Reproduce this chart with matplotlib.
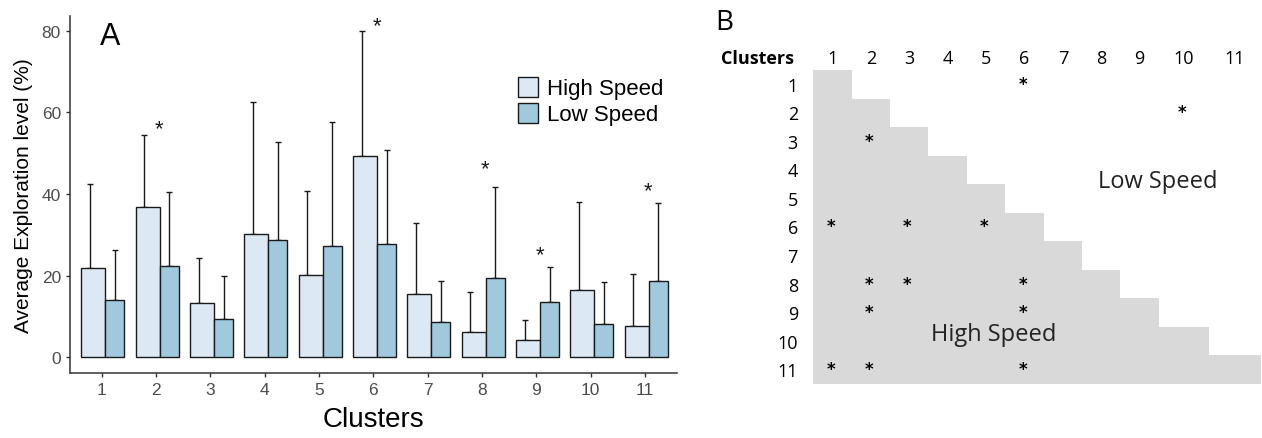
import numpy as np
import matplotlib.pyplot as plt

# ---- panel A data ----
clusters = [1, 2, 3, 4, 5, 6, 7, 8, 9, 10, 11]
high_mean = [21.8, 36.9, 13.2, 30.2, 20.1, 49.3, 15.6, 6.3, 4.2, 16.6, 7.6]
high_top = [42.4, 54.5, 24.2, 62.5, 40.8, 79.8, 33.0, 15.9, 9.1, 38.0, 20.4]
low_mean = [14.0, 22.3, 9.3, 28.8, 27.2, 27.8, 8.7, 19.4, 13.6, 8.1, 18.8]
low_top = [26.3, 40.6, 20.0, 52.7, 57.7, 50.8, 18.8, 41.8, 22.2, 18.5, 37.7]
star_clusters = [2, 6, 8, 9, 11]
star_y = [57.1, 82.2, 47.1, 26.1, 41.8]

# ---- panel B data ----
col_labels = ["1", "2", "3", "4", "5", "6", "7", "8", "9", "10", "11"]
row_labels = col_labels
col_widths = [1, 1, 1, 1, 1, 1, 1, 1, 1, 1.31, 1.35]
# (row, col) of significant pairs, upper = low speed, lower = high speed
sig_pairs = [(1, 6), (2, 10), (3, 2), (6, 1), (6, 3), (6, 5),
             (8, 2), (8, 3), (8, 6), (9, 2), (9, 6), (11, 1), (11, 2), (11, 6)]

high_col = "#dce9f4"
low_col = "#a0c9de"
grid_grey = "#d9d9d9"
tick_grey = "#4d4d4d"

W, H = 1262, 439
fig = plt.figure(figsize=(W / 100, H / 100), dpi=100)

# ---------- panel A ----------
axA = fig.add_axes([70 / W, 1 - 374.3 / H, (676.7 - 70) / W, (374.3 - 16.7) / H])
x = np.array(clusters, dtype=float)
hw = 0.442
lw = 0.35
axA.bar(x - 0.374, high_mean, width=hw, align="edge", color=high_col,
        edgecolor="#1a1a1a", linewidth=1.0, label="High Speed", zorder=2)
axA.bar(x - 0.374 + hw, low_mean, width=lw, align="edge", color=low_col,
        edgecolor="#1a1a1a", linewidth=1.0, label="Low Speed", zorder=2)
# upper-only error bars
for xi, m, t in zip(x - 0.215, high_mean, high_top):
    axA.errorbar(xi, m, yerr=[[0], [t - m]], color="#1a1a1a", lw=1.0,
                 capsize=2.5, capthick=1.0, zorder=1)
for xi, m, t in zip(x + 0.245, low_mean, low_top):
    axA.errorbar(xi, m, yerr=[[0], [t - m]], color="#1a1a1a", lw=1.0,
                 capsize=2.5, capthick=1.0, zorder=1)
for c, sy in zip(star_clusters, star_y):
    axA.text(c + 0.06, sy - 1.0, "*", ha="center", va="center", fontsize=16,
             family="Liberation Sans", color="#1a1a1a")

axA.set_xlim(0.417, 11.583)
axA.set_ylim(-3.92, 83.66)
axA.set_xticks(clusters)
axA.set_yticks([0, 20, 40, 60, 80])
for s in ["top", "right"]:
    axA.spines[s].set_visible(False)
for s in ["left", "bottom"]:
    axA.spines[s].set_color("#333333")
    axA.spines[s].set_linewidth(1.1)
axA.tick_params(colors="#333333", labelcolor=tick_grey, labelsize=12.5, length=3, width=1)
for lab in axA.get_xticklabels() + axA.get_yticklabels():
    lab.set_family("Liberation Sans")
axA.set_ylabel("Average Exploration level (%)", fontsize=15, family="Liberation Sans", labelpad=6)
axA.set_xlabel("Clusters", fontsize=20, family="Liberation Sans", labelpad=6)
axA.text(0.05, 0.985, "A", transform=axA.transAxes, fontsize=22, family="Liberation Sans",
         va="top", ha="left")
axA.legend(loc="upper left", bbox_to_anchor=(0.72, 0.86), frameon=False,
           prop={"family": "Liberation Sans", "size": 16}, handlelength=0.9,
           handleheight=1.0, handletextpad=0.4, labelspacing=0.15, borderpad=0)

# ---------- panel B ----------
edges = np.concatenate([[0], np.cumsum(col_widths)])
centers = (edges[:-1] + edges[1:]) / 2
axB = fig.add_axes([813.3 / W, 1 - 385 / H, (1261 - 813.3) / W, (385 - 71) / H])
nrow = len(row_labels)
rows = np.arange(1, nrow + 1)
axB.barh(rows, edges[1:] - edges[0], left=edges[0], height=1.0,
         color=grid_grey, edgecolor="none")
axB.set_xlim(edges[0], edges[-1])
axB.set_ylim(nrow + 0.5, 0.5)
axB.axis("off")

bfont = "Open Sans"
for c, lab in zip(centers, col_labels):
    axB.text(c, 0.08, lab, ha="center", va="center", fontsize=13, family=bfont, clip_on=False)
for r, lab in zip(rows, row_labels):
    axB.text(-0.4, r + 0.05, lab, ha="right", va="center", fontsize=13, family=bfont, clip_on=False)
axB.text(-0.5, 0.08, "Clusters", ha="right", va="center", fontsize=13, family=bfont,
         fontweight="bold", clip_on=False)
for r, c in sig_pairs:
    axB.text(centers[c - 1] - 0.05, r - 0.02, "*", ha="center", va="center",
             fontsize=12, family="DejaVu Sans", fontweight="bold", clip_on=False)
axB.text(8.98, 4.4, "Low Speed", ha="center", va="center", fontsize=17, family=bfont,
         color="#222222")
axB.text(4.7, 9.75, "High Speed", ha="center", va="center", fontsize=17, family=bfont,
         color="#222222")
axB.text(-2.56, -1.18, "B", ha="left", va="center", fontsize=20, family=bfont, clip_on=False)

fig.savefig("out.png", dpi=100)
